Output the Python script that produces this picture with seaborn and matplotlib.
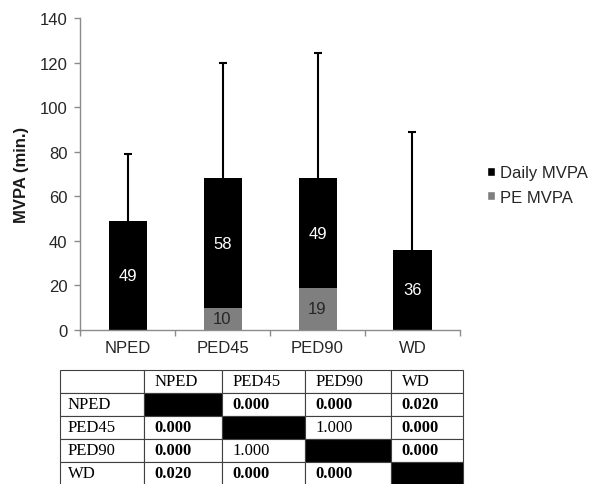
import matplotlib
matplotlib.use("Agg")
import matplotlib.pyplot as plt
import seaborn as sns
import pandas as pd
import numpy as np
from matplotlib.patches import Patch

# ---------------- data ----------------
categories = ["NPED", "PED45", "PED90", "WD"]
pe_mvpa = [0, 10, 19, 0]
daily_mvpa = [49, 58, 49, 36]
sd_upper = [30, 52, 56.5, 53]
y_ticks = [0, 20, 40, 60, 80, 100, 120, 140]
series_labels = ["Daily MVPA", "PE MVPA"]

table_header = ["", "NPED", "PED45", "PED90", "WD"]
table_rows = ["NPED", "PED45", "PED90", "WD"]
p_values = [
    [None, "0.000", "0.000", "0.020"],
    ["0.000", None, "1.000", "0.000"],
    ["0.000", "1.000", None, "0.000"],
    ["0.020", "0.000", "0.000", None],
]

# ---------------- style ----------------
sns.set_theme(style="white")
plt.rcParams["font.family"] = ["Liberation Sans", "DejaVu Sans"]

W, H = 592, 485
fig = plt.figure(figsize=(W / 100, H / 100), dpi=100)
ax = fig.add_axes([80 / W, (H - 331) / H, 380 / W, (331 - 19) / H])

df = pd.DataFrame({
    "group": categories,
    "daily": daily_mvpa,
    "pe": pe_mvpa,
})
df["total"] = df["daily"] + df["pe"]

BLACK = "#000000"
GRAY = "#7f7f7f"
SPINE = "#8c8c8c"
TXT = "#262626"

pos = np.arange(len(categories))
eb = ax.errorbar(pos, df["total"], yerr=[np.zeros(len(categories)), sd_upper],
                 fmt="none", ecolor="black", elinewidth=1.5, capsize=2.6,
                 capthick=1.5, zorder=1)
# show only the upper caps
eb[1][0].set_visible(False)

sns.barplot(data=df, x="group", y="total", color=BLACK, width=0.4,
            saturation=1, ax=ax, errorbar=None, linewidth=0,
            edgecolor="none", zorder=2)
sns.barplot(data=df, x="group", y="pe", color=GRAY, width=0.4,
            saturation=1, ax=ax, errorbar=None, linewidth=0,
            edgecolor="none", zorder=3)

for i in range(len(categories)):
    ax.text(pos[i], df["pe"][i] + df["daily"][i] / 2, str(df["daily"][i]),
            ha="center", va="center", color="white", fontsize=12, zorder=4)
    if df["pe"][i] > 0:
        ax.text(pos[i], df["pe"][i] / 2, str(df["pe"][i]),
                ha="center", va="center", color=TXT, fontsize=12, zorder=4)

ax.set_ylim(0, 140)
ax.set_yticks(y_ticks)
ax.set_xlim(-0.5, len(categories) - 0.5)
ax.set_xlabel("")
ax.set_ylabel("MVPA (min.)", fontsize=12, fontweight="bold", labelpad=8,
              color="#1a1a1a")

for s in ["top", "right"]:
    ax.spines[s].set_visible(False)
for s in ["left", "bottom"]:
    ax.spines[s].set_color(SPINE)
    ax.spines[s].set_linewidth(1)
    ax.spines[s].set_zorder(5)

ax.tick_params(axis="y", left=True, length=4, width=1, color=SPINE, pad=5,
               labelsize=12, labelcolor=TXT, direction="out")
ax.tick_params(axis="x", which="major", bottom=True, length=0, pad=7,
               labelsize=12, labelcolor=TXT)
ax.set_xticks(np.arange(-0.5, len(categories)), minor=True)
ax.tick_params(axis="x", which="minor", bottom=True, length=4, width=1,
               color=SPINE, direction="out")
ax.grid(False)

handles = [Patch(facecolor=BLACK, label=series_labels[0]),
           Patch(facecolor=GRAY, label=series_labels[1])]
leg = fig.legend(handles=handles, loc="center left",
                 bbox_to_anchor=(487 / W, 1 - 186 / H), frameon=False,
                 fontsize=12, handlelength=0.45, handleheight=0.45,
                 handletextpad=0.3, labelspacing=0.55, borderaxespad=0,
                 borderpad=0)
for t in leg.get_texts():
    t.set_color(TXT)

# ---------------- table ----------------
tax = fig.add_axes([0, 0, 1, 1])
tax.set_axis_off()
col_px = [84, 78, 83, 86, 72]
cell_text = [table_header] + [[r] + [v if v is not None else "" for v in row]
                              for r, row in zip(table_rows, p_values)]
tbl = tax.table(cellText=cell_text, colWidths=[c / sum(col_px) for c in col_px],
                cellLoc="left",
                bbox=[60 / W, (H - 486) / H, sum(col_px) / W, 115 / H])
tbl.auto_set_font_size(False)
tbl.set_fontsize(12)
for (r, c), cell in tbl.get_celld().items():
    cell.set_edgecolor("#404040")
    cell.set_linewidth(0.8)
    cell.PAD = (8 if c == 0 else 10.5) / col_px[c]
    txt = cell.get_text()
    txt.set_fontfamily(["Liberation Serif", "DejaVu Serif"])
    txt.set_color("black")
    if r >= 1 and c >= 1:
        val = p_values[r - 1][c - 1]
        if val is None:
            cell.set_facecolor("black")
        elif float(val) < 0.05:
            txt.set_fontweight("bold")

fig.savefig("out.png", dpi=100)
